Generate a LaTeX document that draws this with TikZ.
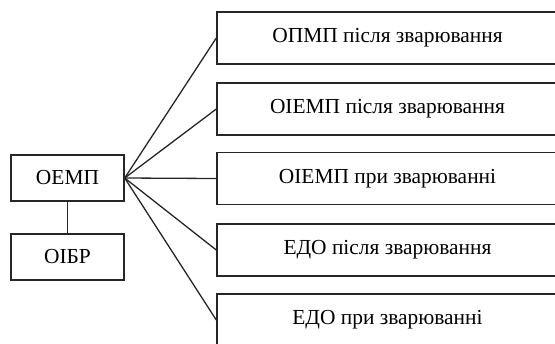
\documentclass[tikz,border=0pt]{standalone}
\usepackage{fontspec}
\setmainfont{Liberation Serif}
\begin{document}
\begin{tikzpicture}[x=1bp,y=-1bp,
  box/.style={draw=black!85, line width=1.4bp, inner sep=0pt, font=\fontsize{21.5}{24}\selectfont},
  lbox/.style={box, minimum width=113bp, minimum height=46bp},
  rbox/.style={box, minimum width=341bp, minimum height=52bp},
  link/.style={draw=black!85, line width=1.3bp}]
\useasboundingbox[clip] (0,0) rectangle (555,343);
\node[lbox] (oemp) at (67.5,178) {ОЕМП};
\node[lbox] (oibr) at (67.5,257) {ОІБР};
\node[rbox] (r1) at (387.5,38) {ОПМП після зварювання};
\node[rbox] (r2) at (387.5,109) {ОІЕМП після зварювання};
\node[rbox] (r3) at (387.5,178.5) {ОІЕМП при зварюванні};
\node[rbox] (r4) at (387.5,250) {ЕДО після зварювання};
\node[rbox] (r5) at (387.5,320) {ЕДО при зварюванні};
\draw[link] (oemp) -- (oibr);
\foreach \n in {r1,r2,r3,r4,r5} \draw[link] (oemp.east) -- (\n.west);
\end{tikzpicture}
\end{document}
